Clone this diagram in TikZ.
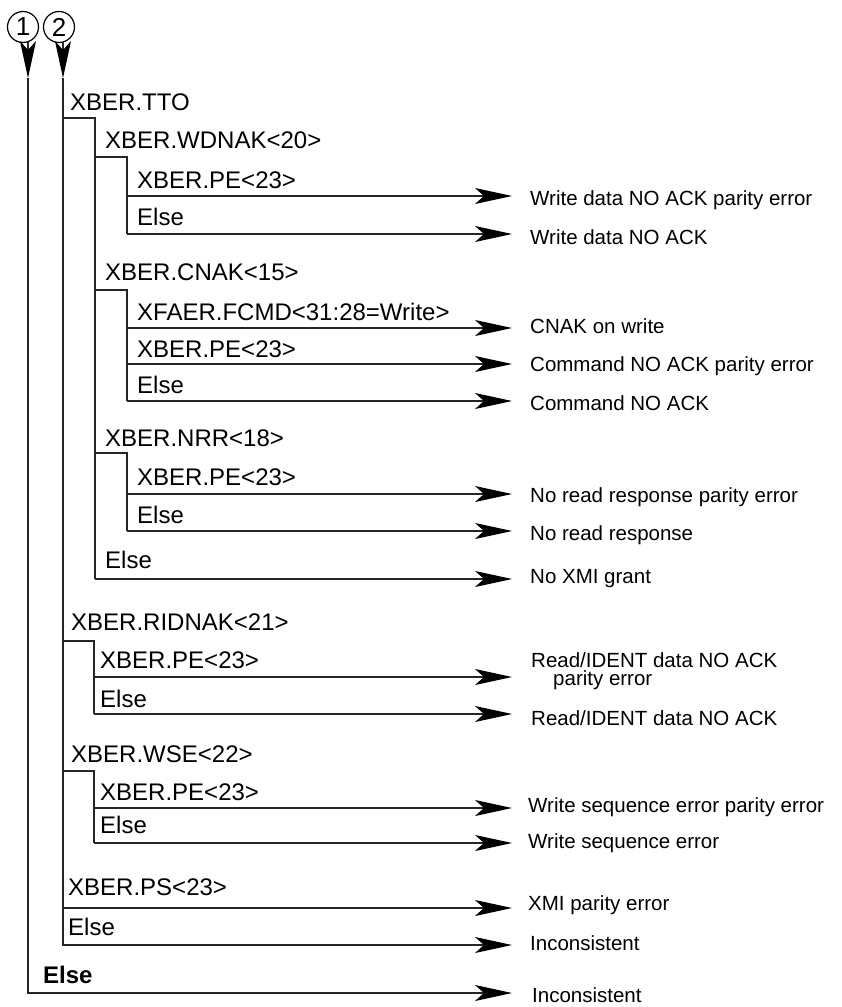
\documentclass[tikz,border=0pt]{standalone}
\usepackage{fontspec}
\setmainfont{Liberation Sans}
\usetikzlibrary{arrows.meta}
\tikzset{
  wire/.style={line width=1.1pt, draw=black!85},
  arr/.style={wire, -{Stealth[length=37pt,width=16pt,inset=9pt,color=black]}},
  cond/.style={font=\fontsize{24}{26}\selectfont, inner sep=0pt, anchor=base west},
  res/.style={font=\fontsize{20.5}{23}\selectfont, inner sep=0pt, anchor=base west},
  num/.style={circle, draw=black, line width=1.2pt, minimum size=31pt, inner sep=0pt, font=\fontsize{26}{28}\selectfont},
}
\begin{document}
\begin{tikzpicture}[x=1pt,y=-1pt]
\useasboundingbox (0,0) rectangle (841,1007);
% ---- entry points
\node[num] (c1) at (23,27) {1};
\node[num] (c2) at (59,27) {2};
\coordinate (s1) at (28,42);  \coordinate (t1) at (28,78);
\coordinate (s2) at (63,42);  \coordinate (t2) at (63,78);
\draw[arr] (s1) -- (t1);
\draw[arr] (s2) -- (t2);
% ---- level 0 else
\coordinate (e0) at (512,993);
\draw[arr] (t1) |- (e0);
\node[cond] (else0) at (43,983) {\textbf{Else}};
\node[res] (o0) at (532,1002) {Inconsistent};
% ---- level 1 (x=63)
\coordinate (r1else) at (63,945); \coordinate (e1else) at (512,945);
\draw[arr] (t2) |- (e1else);
\node[cond] (l1else) at (68,935) {Else};
\node[res] (o1else) at (530,950) {Inconsistent};
\coordinate (r1ps) at (63,908); \coordinate (e1ps) at (512,908);
\draw[arr] (r1ps) -- (e1ps);
\node[cond] (l1ps) at (68,895) {XBER.PS<23>};
\node[res] (o1ps) at (528,910) {XMI parity error};
\coordinate (r1tto) at (63,118);
\node[cond] (l1tto) at (70,110) {XBER.TTO};
\coordinate (r1rid) at (63,641);
\node[cond] (l1rid) at (71,630) {XBER.RIDNAK<21>};
\coordinate (r1wse) at (63,771);
\node[cond] (l1wse) at (71,762) {XBER.WSE<22>};
% ---- level 2 under TTO (x=95)
\coordinate (r2wd) at (95,157);
\node[cond] (l2wd) at (105,148) {XBER.WDNAK<20>};
\coordinate (r2cn) at (95,290);
\node[cond] (l2cn) at (105,280) {XBER.CNAK<15>};
\coordinate (r2nrr) at (95,453);
\node[cond] (l2nrr) at (105,446) {XBER.NRR<18>};
\coordinate (r2else) at (95,579); \coordinate (e2else) at (512,579);
\draw[arr] (r2else) -- (e2else);
\node[cond] (l2else) at (105,568) {Else};
\node[res] (o2else) at (530,583) {No XMI grant};
\draw[wire] (r1tto) -| (r2else);
% ---- WDNAK children (x=127)
\coordinate (r3wdpe) at (127,196); \coordinate (e3wdpe) at (512,196);
\draw[arr] (r3wdpe) -- (e3wdpe);
\node[cond] (l3wdpe) at (137,188) {XBER.PE<23>};
\node[res] (o3wdpe) at (530,205) {Write data NO ACK parity error};
\coordinate (r3wdelse) at (127,234); \coordinate (e3wdelse) at (512,234);
\draw[arr] (r3wdelse) -- (e3wdelse);
\node[cond] (l3wdelse) at (137,225) {Else};
\node[res] (o3wdelse) at (530,244) {Write data NO ACK};
\draw[wire] (r2wd) -| (r3wdelse);
% ---- CNAK children
\coordinate (r3cnfc) at (127,328); \coordinate (e3cnfc) at (512,328);
\draw[arr] (r3cnfc) -- (e3cnfc);
\node[cond] (l3cnfc) at (137,320) {XFAER.FCMD<31:28=Write>};
\node[res] (o3cnfc) at (530,333) {CNAK on write};
\coordinate (r3cnpe) at (127,364); \coordinate (e3cnpe) at (512,364);
\draw[arr] (r3cnpe) -- (e3cnpe);
\node[cond] (l3cnpe) at (137,357) {XBER.PE<23>};
\node[res] (o3cnpe) at (530,371) {Command NO ACK parity error};
\coordinate (r3cnelse) at (127,401); \coordinate (e3cnelse) at (512,401);
\draw[arr] (r3cnelse) -- (e3cnelse);
\node[cond] (l3cnelse) at (137,393) {Else};
\node[res] (o3cnelse) at (530,410) {Command NO ACK};
\draw[wire] (r2cn) -| (r3cnelse);
% ---- NRR children
\coordinate (r3nrrpe) at (127,494); \coordinate (e3nrrpe) at (512,494);
\draw[arr] (r3nrrpe) -- (e3nrrpe);
\node[cond] (l3nrrpe) at (137,485) {XBER.PE<23>};
\node[res] (o3nrrpe) at (530,502) {No read response parity error};
\coordinate (r3nrrelse) at (127,531); \coordinate (e3nrrelse) at (512,531);
\draw[arr] (r3nrrelse) -- (e3nrrelse);
\node[cond] (l3nrrelse) at (137,523) {Else};
\node[res] (o3nrrelse) at (530,540) {No read response};
\draw[wire] (r2nrr) -| (r3nrrelse);
% ---- RIDNAK children (x=94)
\coordinate (r3ridpe) at (94,677); \coordinate (e3ridpe) at (512,677);
\draw[arr] (r3ridpe) -- (e3ridpe);
\node[cond] (l3ridpe) at (100,668) {XBER.PE<23>};
\node[res] (o3ridpe) at (531,667) {\begin{tabular}[t]{@{}l@{}}Read/IDENT data NO ACK\\[-4.5pt]\hspace*{22pt}parity error\end{tabular}};
\coordinate (r3ridelse) at (94,714); \coordinate (e3ridelse) at (512,714);
\draw[arr] (r3ridelse) -- (e3ridelse);
\node[cond] (l3ridelse) at (100,707) {Else};
\node[res] (o3ridelse) at (531,725) {Read/IDENT data NO ACK};
\draw[wire] (r1rid) -| (r3ridelse);
% ---- WSE children
\coordinate (r3wsepe) at (94,808); \coordinate (e3wsepe) at (512,808);
\draw[arr] (r3wsepe) -- (e3wsepe);
\node[cond] (l3wsepe) at (100,800) {XBER.PE<23>};
\node[res] (o3wsepe) at (528,812) {Write sequence error parity error};
\coordinate (r3wseelse) at (94,843); \coordinate (e3wseelse) at (512,843);
\draw[arr] (r3wseelse) -- (e3wseelse);
\node[cond] (l3wseelse) at (100,833) {Else};
\node[res] (o3wseelse) at (528,848) {Write sequence error};
\draw[wire] (r1wse) -| (r3wseelse);
\end{tikzpicture}
\end{document}
